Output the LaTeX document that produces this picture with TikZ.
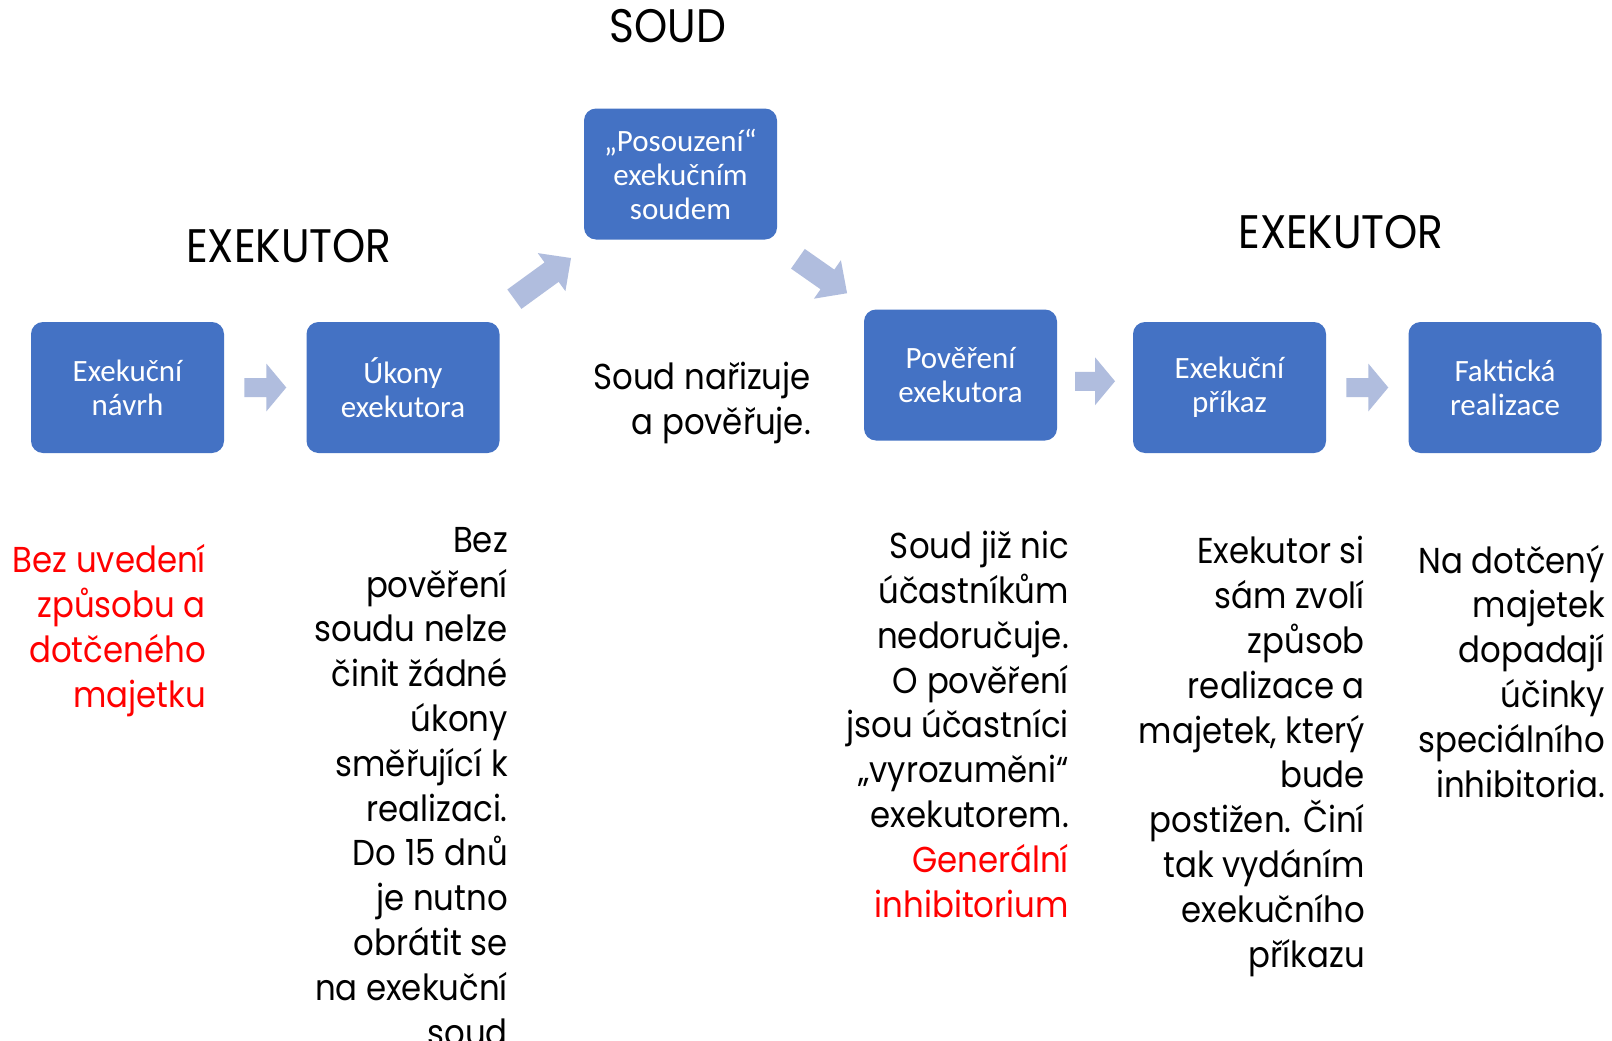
\documentclass[tikz,border=0pt]{standalone}
\usepackage{fontspec}
\setmainfont{Carlito}
\newfontfamily\twfont[FakeStretch=0.9]{Poppins}
\newfontfamily\boxfont{Carlito}
\usetikzlibrary{calc}
\definecolor{boxblue}{HTML}{4472C4}
\definecolor{arrowfill}{RGB}{176,189,222}
\definecolor{redtext}{RGB}{255,0,0}
\newcommand\blockarr[6]{\fill[arrowfill,shift={(#1)},rotate=#2] (-#3/2,-#4) -- (#3/2-#6,-#4) -- (#3/2-#6,-#5) -- (#3/2,0) -- (#3/2-#6,#5) -- (#3/2-#6,#4) -- (-#3/2,#4) -- cycle;}
\tikzset{
  stepbox/.style={fill=boxblue, rounded corners=12pt, minimum width=193pt, minimum height=131pt, inner sep=0pt, text=white, align=center, font=\boxfont\fontsize{31}{34}\selectfont},
  body/.style={inner sep=0pt, align=right, anchor=base east, font=\twfont\fontsize{36}{44.8}\selectfont},
  heading/.style={inner sep=0pt, anchor=base, font=\twfont\fontsize{47}{54}\selectfont}
}
\begin{document}
\begin{tikzpicture}[x=1pt,y=-1pt]
\clip (0,0) rectangle (1612,1041);
\fill[white] (0,0) rectangle (1612,1041);
% headings
\node[heading] (hsoud) at (668,43) {SOUD};
\node[heading] (hex1) at (289,262) {EXEKUTOR};
\node[heading] (hex2) at (1341,248) {EXEKUTOR};
% boxes
\node[stepbox] (b1) at (127.5,387.5) {Exekuční\\návrh};
\node[stepbox] (b2) at (403,387.5) {Úkony\\exekutora};
\node[stepbox] (b3) at (680.5,174) {„Posouzení“\\exekučním\\soudem};
\node[stepbox] (b4) at (960.5,375) {Pověření\\exekutora};
\node[stepbox] (b5) at (1229.5,387.5) {Exekuční\\příkaz};
\node[stepbox] (b6) at (1505,387.5) {Faktická\\realizace};
% block arrows
\coordinate (a1) at ($(b1.east)!0.5!(b2.west)$);
\coordinate (a2) at ($(b4.east)!0.5!(b5.west)$);
\coordinate (a3) at ($(b5.east)!0.5!(b6.west)$);
\coordinate (aup) at (542.7,278.6);
\coordinate (adown) at (822.5,276);
\blockarr{a1}{0}{42}{9.5}{24}{20}
\blockarr{a2}{0}{40}{9.5}{24}{20}
\blockarr{a3}{0}{42}{9.5}{24}{20}
\blockarr{aup}{36}{70}{12}{23.5}{24}
\blockarr{adown}{-35}{60}{12}{23.5}{24}
% texts (anchored at the baseline of the last line)
\node[body] (tsoud) at (811,434) {Soud nařizuje\\a pověřuje.};
\node[body, text=redtext] (t1) at (206,707) {Bez uvedení\\způsobu a\\dotčeného\\majetku};
\node[body] (t2) at (508,1045) {Bez\\pověření\\soudu nelze\\činit žádné\\úkony\\směřující k\\realizaci.\\Do 15 dnů\\je nutno\\obrátit se\\na exekuční\\soud};
\node[body] (t4) at (1069,917) {Soud již nic\\účastníkům\\nedoručuje.\\O pověření\\jsou účastníci\\„vyrozuměni“\\exekutorem.\\\textcolor{redtext}{Generální}\\\textcolor{redtext}{inhibitorium}};
\node[body] (t5) at (1365,967) {Exekutor si\\sám zvolí\\způsob\\realizace a\\majetek, který\\bude\\postižen. Činí\\tak vydáním\\exekučního\\příkazu};
\node[body] (t6) at (1605,797) {Na dotčený\\majetek\\dopadají\\účinky\\speciálního\\inhibitoria.};
\end{tikzpicture}
\end{document}
